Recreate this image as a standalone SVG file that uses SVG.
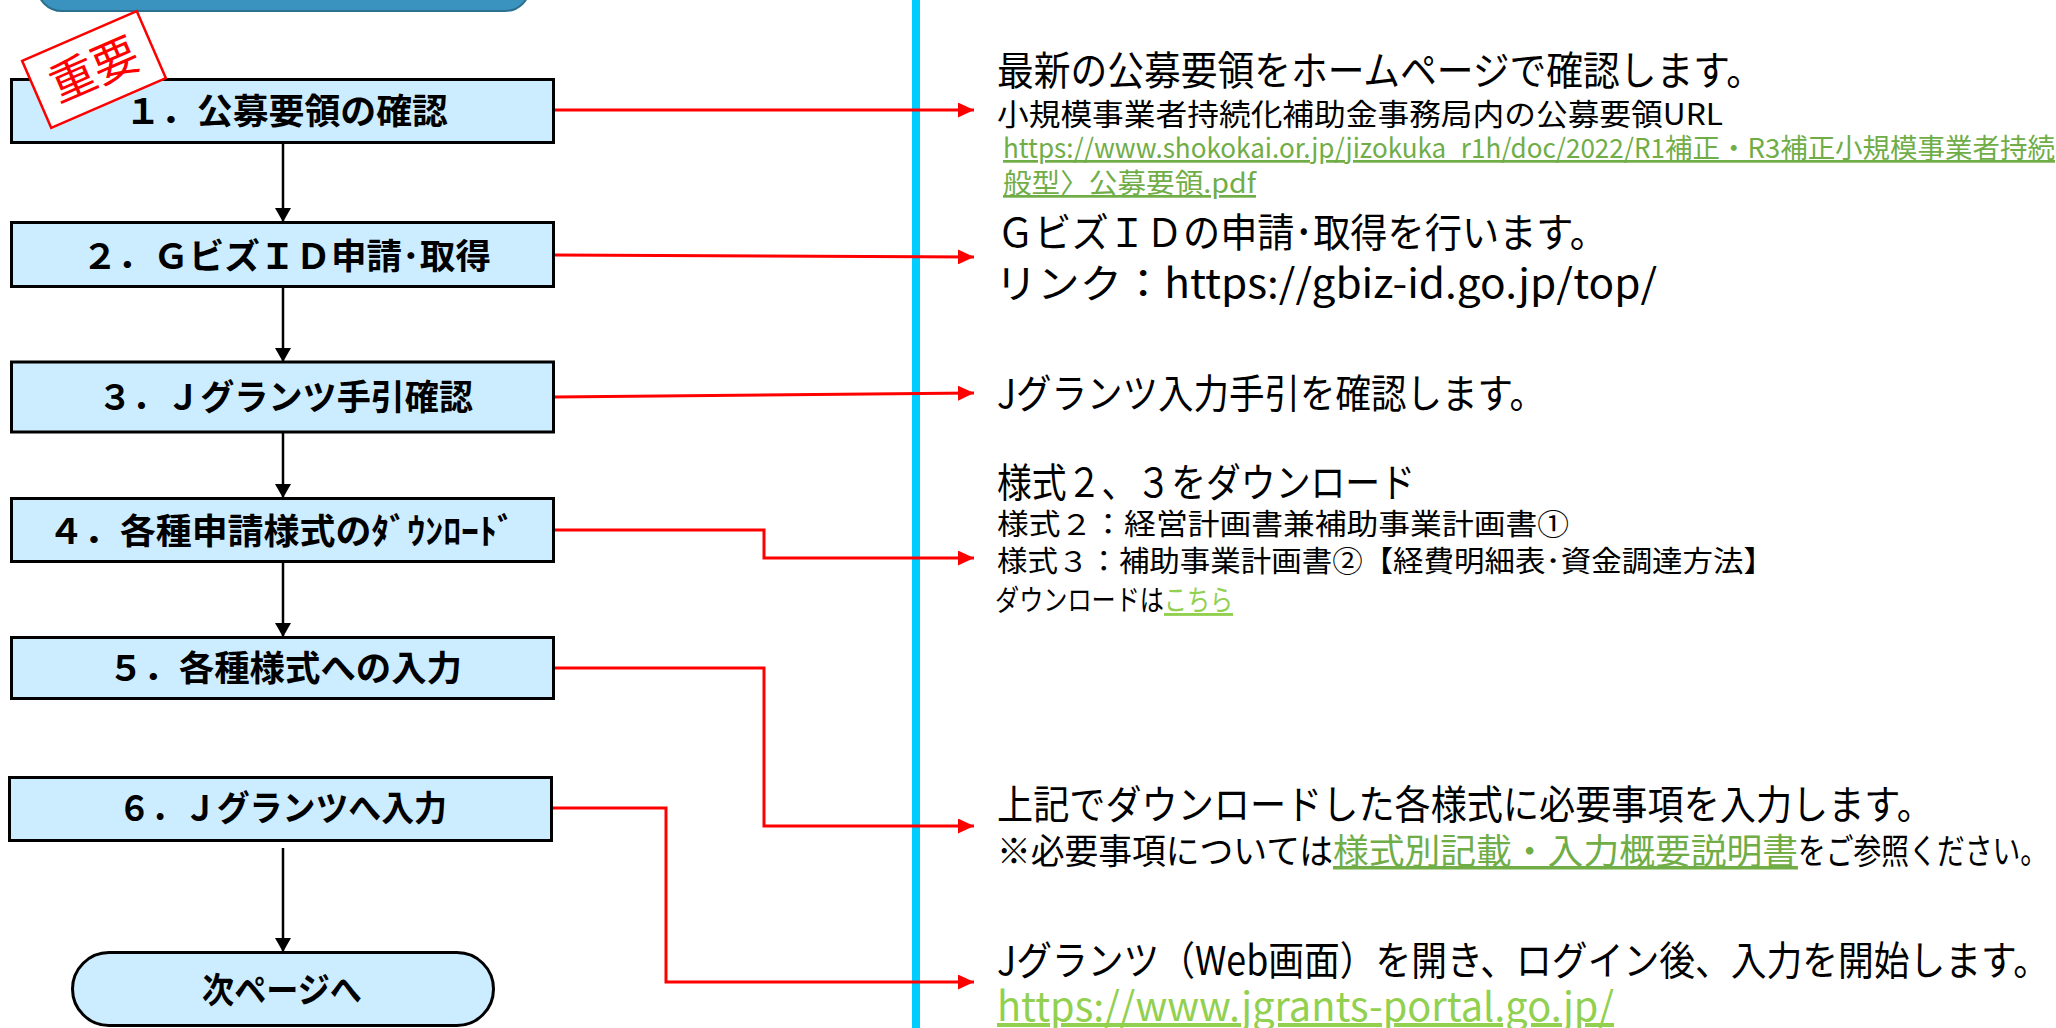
<svg xmlns="http://www.w3.org/2000/svg" width="2056" height="1028" viewBox="0 0 2056 1028">
<defs>
<style>
.box{fill:#CCECFF;stroke:#000;stroke-width:3}
.bt{font-family:"Noto Sans CJK JP","Noto Sans",sans-serif;font-weight:700;font-size:35px;fill:#000}
.t{font-family:"Noto Sans CJK JP","Noto Sans",sans-serif;fill:#000}
.big{font-size:40px}
.mid{font-size:35px}
.sm{font-size:29px}
.lnk1{fill:#70AD47;text-decoration:underline}
.lnk2{fill:#92D050;text-decoration:underline}
.red{fill:none;stroke:#FF0000;stroke-width:3}
.blk{fill:none;stroke:#000;stroke-width:2.5}
</style>
<marker id="ra" viewBox="0 0 16 15" refX="16" refY="7.5" markerWidth="16" markerHeight="15" markerUnits="userSpaceOnUse" orient="auto">
<path d="M0,0 L16,7.5 L0,15 z" fill="#FF0000"/>
</marker>
<marker id="ba" viewBox="0 0 14 16" refX="14" refY="8" markerWidth="14" markerHeight="16" markerUnits="userSpaceOnUse" orient="auto">
<path d="M0,0 L14,8 L0,16 z" fill="#000"/>
</marker>
</defs>
<rect width="2056" height="1028" fill="#FFFFFF"/>

<g id="header">
<rect x="37" y="-40" width="493" height="51" rx="25" fill="#3A93BE" stroke="#2C6F8E" stroke-width="2"/>
</g>

<g id="divider">
<rect x="912" y="0" width="8" height="1028" fill="#00CCFF"/>
</g>

<g id="connectors">
<path class="blk" d="M283,143 V222" marker-end="url(#ba)"/>
<path class="blk" d="M283,287 V362" marker-end="url(#ba)"/>
<path class="blk" d="M283,432 V498" marker-end="url(#ba)"/>
<path class="blk" d="M283,562 V637" marker-end="url(#ba)"/>
<path class="blk" d="M283,848 V952" marker-end="url(#ba)"/>
<path class="red" d="M554,110 H974" marker-end="url(#ra)"/>
<path class="red" d="M554,255 L974,257" marker-end="url(#ra)"/>
<path class="red" d="M554,397 L974,393" marker-end="url(#ra)"/>
<path class="red" d="M554,530 H764 V558 H974" marker-end="url(#ra)"/>
<path class="red" d="M554,668 H764 V826 H974" marker-end="url(#ra)"/>
<path class="red" d="M552,808 H666 V982 H974" marker-end="url(#ra)"/>
</g>

<g id="step1">
<rect class="box" x="11.5" y="79.5" width="542" height="63"/>
<text class="bt" x="125" y="124" textLength="323" lengthAdjust="spacingAndGlyphs">１．公募要領の確認</text>
</g>
<g id="stamp" transform="rotate(-23.5 94 69.5)">
<rect x="31.5" y="33" width="125" height="73" fill="#FFFFFF" stroke="#FF0000" stroke-width="2.5"/>
<text x="94" y="86" text-anchor="middle" font-family="Noto Sans CJK JP, sans-serif" font-size="46" fill="#FF0000">重要</text>
</g>
<g id="step2">
<rect class="box" x="11.5" y="222.5" width="542" height="64"/>
<text class="bt" x="82" y="269" textLength="409" lengthAdjust="spacingAndGlyphs">２．ＧビズＩＤ申請･取得</text>
</g>
<g id="step3">
<rect class="box" x="11.5" y="362" width="542" height="70"/>
<text class="bt" x="98" y="410" textLength="375" lengthAdjust="spacingAndGlyphs">３．Ｊグランツ手引確認</text>
</g>
<g id="step4">
<rect class="box" x="11.5" y="498.5" width="542" height="63"/>
<text class="bt" x="48" y="544" textLength="467" lengthAdjust="spacingAndGlyphs">４．各種申請様式のﾀﾞｳﾝﾛｰﾄﾞ</text>
</g>
<g id="step5">
<rect class="box" x="11.5" y="637.5" width="542" height="61"/>
<text class="bt" x="108" y="681" textLength="354" lengthAdjust="spacingAndGlyphs">５．各種様式への入力</text>
</g>
<g id="step6">
<rect class="box" x="9.5" y="777.5" width="542" height="63"/>
<text class="bt" x="118" y="821" textLength="329" lengthAdjust="spacingAndGlyphs">６．Ｊグランツへ入力</text>
</g>
<g id="next">
<rect class="box" x="72.5" y="952.5" width="421" height="73" rx="36.5"/>
<text class="bt" x="202" y="1003" textLength="160" lengthAdjust="spacingAndGlyphs">次ページへ</text>
</g>

<g id="desc1">
<text class="t big" x="997" y="85" textLength="766" lengthAdjust="spacingAndGlyphs">最新の公募要領をホームページで確認します。</text>
<text class="t" font-size="30" x="997" y="125" textLength="726" lengthAdjust="spacingAndGlyphs">小規模事業者持続化補助金事務局内の公募要領URL</text>
<text class="t lnk1" font-size="27" x="1003" y="158" textLength="662" lengthAdjust="spacingAndGlyphs">https://www.shokokai.or.jp/jizokuka_r1h/doc/2022/R1</text>
<text class="t lnk1" font-size="27" x="1665" y="158" textLength="390" lengthAdjust="spacingAndGlyphs">補正・R3補正小規模事業者持続</text>
<text class="t lnk1" font-size="27" x="1003" y="193" textLength="253" lengthAdjust="spacingAndGlyphs">般型〉公募要領.pdf</text>
</g>
<g id="desc2">
<text class="t big" x="997" y="247" textLength="610" lengthAdjust="spacingAndGlyphs">ＧビズＩＤの申請･取得を行います。</text>
<text class="t big" x="995" y="298" textLength="662" lengthAdjust="spacingAndGlyphs">リンク：https://gbiz-id.go.jp/top/</text>
</g>
<g id="desc3">
<text class="t big" x="997" y="408" textLength="548" lengthAdjust="spacingAndGlyphs">Jグランツ入力手引を確認します。</text>
</g>
<g id="desc4">
<text class="t big" x="997" y="497" textLength="418" lengthAdjust="spacingAndGlyphs">様式２、３をダウンロード</text>
<text class="t sm" x="997" y="535" textLength="572" lengthAdjust="spacingAndGlyphs">様式２：経営計画書兼補助事業計画書①</text>
<text class="t sm" x="997" y="572" textLength="777" lengthAdjust="spacingAndGlyphs">様式３：補助事業計画書②【経費明細表･資金調達方法】</text>
<text class="t sm" x="995" y="611" textLength="169" lengthAdjust="spacingAndGlyphs">ダウンロードは</text>
<text class="t sm lnk2" x="1164" y="611" textLength="69" lengthAdjust="spacingAndGlyphs">こちら</text>
</g>
<g id="desc5">
<text class="t big" x="997" y="819" textLength="936" lengthAdjust="spacingAndGlyphs">上記でダウンロードした各様式に必要事項を入力します。</text>
<text class="t mid" x="997" y="864" textLength="336" lengthAdjust="spacingAndGlyphs">※必要事項については</text>
<text class="t mid lnk1" x="1333" y="864" textLength="465" lengthAdjust="spacingAndGlyphs">様式別記載・入力概要説明書</text>
<text class="t mid" x="1798" y="864" textLength="250" lengthAdjust="spacingAndGlyphs">をご参照ください。</text>
</g>
<g id="desc6">
<text class="t big" x="997" y="975" textLength="1052" lengthAdjust="spacingAndGlyphs">Jグランツ（Web画面）を開き、ログイン後、入力を開始します。</text>
<text class="t lnk2" font-size="40" x="997" y="1021" textLength="617" lengthAdjust="spacingAndGlyphs">https://www.jgrants-portal.go.jp/</text>
</g>
</svg>
